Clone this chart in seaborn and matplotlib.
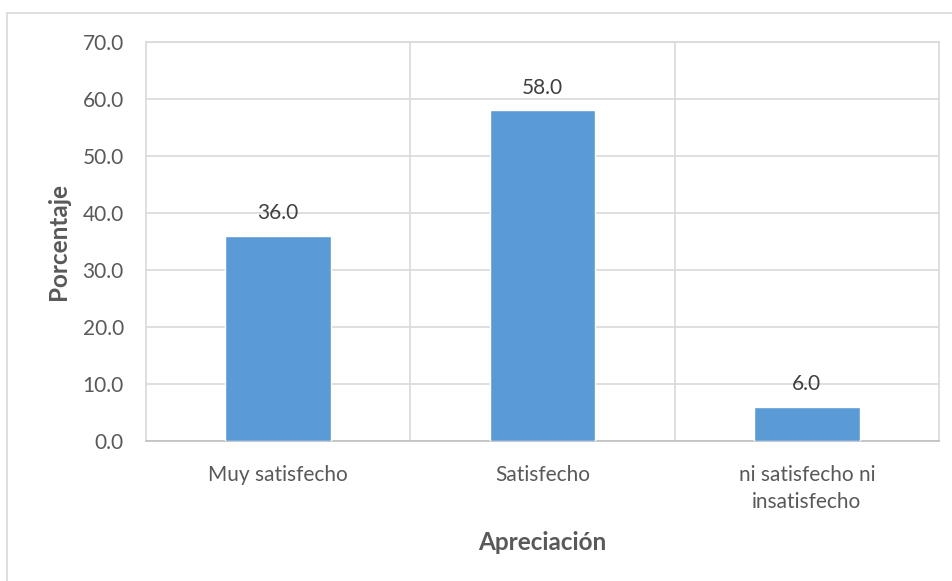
import matplotlib
matplotlib.use('Agg')
import matplotlib.pyplot as plt
import seaborn as sns
import pandas as pd
from matplotlib.lines import Line2D

# Datos del gráfico
categorias = ['Muy satisfecho', 'Satisfecho', 'ni satisfecho ni\ninsatisfecho']
porcentajes = [36.0, 58.0, 6.0]
ticks_y = [0, 10, 20, 30, 40, 50, 60, 70]

df = pd.DataFrame({'Apreciación': categorias, 'Porcentaje': porcentajes})

sns.set_style('white')
plt.rcParams['font.family'] = ['Lato', 'DejaVu Sans']

fig = plt.figure(figsize=(9.52, 5.81), dpi=100)
ax = fig.add_axes([146/952, 1 - 441/581, (939 - 146)/952, (441 - 42)/581])

sns.barplot(x='Apreciación', y='Porcentaje', data=df, color='#5B9BD5',
            saturation=1, width=0.4, ax=ax, zorder=3)

ax.set_xlim(-0.5, 2.5)
ax.set_ylim(0, 70)
ax.set_yticks(ticks_y)
ax.set_yticklabels([f'{v:.1f}' for v in ticks_y])

# rejilla horizontal y separadores de categoría
ax.set_xticks([0.5, 1.5], minor=True)
ax.grid(axis='y', color='#D9D9D9', linewidth=1.2, zorder=0)
ax.grid(axis='x', which='minor', color='#D9D9D9', linewidth=1.2, zorder=0)
ax.grid(axis='x', which='major', visible=False)

for lado in ['left', 'right', 'top']:
    ax.spines[lado].set_color('#D9D9D9')
    ax.spines[lado].set_linewidth(1.2)
ax.spines['bottom'].set_color('#BFBFBF')
ax.spines['bottom'].set_linewidth(1.2)

ax.tick_params(axis='both', which='both', length=0, labelsize=15, colors='#595959')
ax.tick_params(axis='x', pad=17)
ax.tick_params(axis='y', pad=16)
for t in ax.get_xticklabels():
    t.set_linespacing(1.45)

# etiquetas de datos
for p, v in zip(ax.patches, porcentajes):
    ax.annotate(f'{v:.1f}', (p.get_x() + p.get_width() / 2, p.get_height()),
                xytext=(0, 9), textcoords='offset points', ha='center', va='bottom',
                fontsize=15, color='#404040')

ax.set_xlabel('Apreciación', fontsize=17.5, fontweight='bold', color='#595959', labelpad=14)
ax.set_ylabel('Porcentaje', fontsize=17.5, fontweight='bold', color='#595959', labelpad=9)

# borde exterior del gráfico (recortado a derecha y abajo)
borde = '#D9D9D9'
fig.add_artist(Line2D([7/952, 7/952], [0, 1 - 13/581], color=borde, linewidth=1.2))
fig.add_artist(Line2D([7/952, 1], [1 - 13/581, 1 - 13/581], color=borde, linewidth=1.2))

fig.savefig('out.png', dpi=100)
